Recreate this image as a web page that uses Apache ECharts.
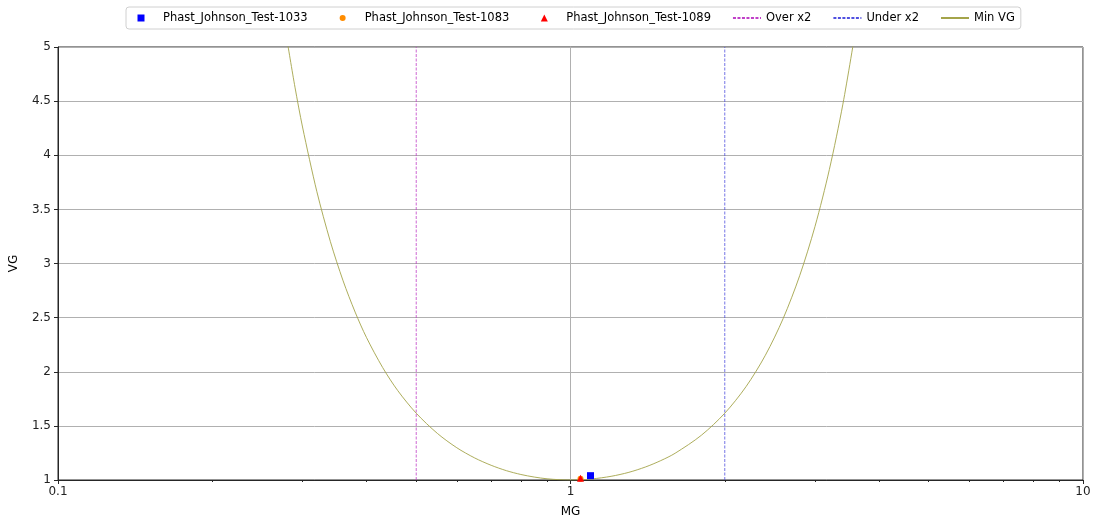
<!DOCTYPE html>
<html>
<head>
<meta charset="utf-8">
<script src="https://cdn.jsdelivr.net/npm/echarts@6/dist/echarts.min.js"></script>
<style>
  html, body { margin: 0; padding: 0; background: #fff; }
  #chart { width: 1095px; height: 523px; }
</style>
</head>
<body>
<div id="chart"></div>
<script>
// Test points: [MG, VG]
const test1033 = [[1.094, 1.040]];
const test1083 = [[1.046, 1.012]];
const test1089 = [[1.046, 1.016]];

// Factor-of-two bounds on MG
const overX = 0.5;
const underX = 2;

// Minimum attainable VG for a given MG
const minVgMG = [0.28, 0.29, 0.30, 0.32, 0.34, 0.36, 0.38, 0.40, 0.43, 0.46, 0.50, 0.55, 0.60, 0.65, 0.70, 0.75, 0.80, 0.85, 0.90, 0.95, 1.00, 1.05, 1.10, 1.20, 1.30, 1.40, 1.50, 1.60, 1.80, 2.00, 2.20, 2.40, 2.60, 2.80, 3.00, 3.20, 3.40, 3.60];
const minVgVG = [5.056, 4.629, 4.261, 3.663, 3.202, 2.840, 2.551, 2.315, 2.039, 1.827, 1.617, 1.430, 1.298, 1.204, 1.136, 1.086, 1.051, 1.027, 1.011, 1.003, 1.000, 1.002, 1.009, 1.034, 1.071, 1.120, 1.179, 1.247, 1.413, 1.617, 1.862, 2.152, 2.492, 2.887, 3.343, 3.869, 4.472, 5.159];

const xLabels = { 0.1: '0.1', 1: '1', 10: '10' };
const yMin = 1, yMax = 5, yStep = 0.5;

const FONT = 'DejaVu Sans';
const SQUARE = 'path://M0,0L1,0L1,1L0,1Z';
const TRIANGLE = 'path://M0.5,0L1,1L0,1Z';
// Legend glyphs centred in a 28x7 handle (the leading moves widen the bounds)
const SQUARE_KEY = 'path://M0,0M28,7M10.5,0L17.5,0L17.5,7L10.5,7Z';
const CIRCLE_KEY = 'path://M0,0M28,7M11,3.5A3,3,0,1,1,17,3.5A3,3,0,1,1,11,3.5Z';
const TRIANGLE_KEY = 'path://M0,0M28,7M14,0L17.5,7L10.5,7Z';
const chart = echarts.init(document.getElementById('chart'));

const hideSymbol = { opacity: 0 };
const markerText = { padding: [0, 0, 0, 3] };
const lineText = { padding: [0, 0, 0, 0] };

chart.setOption({
  animation: false,
  backgroundColor: '#ffffff',
  textStyle: { fontFamily: FONT },
  grid: {
    left: 58, right: 12, top: 47, bottom: 43,
    show: true, borderColor: '#262626', borderWidth: 1, backgroundColor: 'transparent'
  },
  legend: {
    top: 7,
    left: 126,
    itemWidth: 28,
    itemHeight: 7,
    itemGap: 21,
    padding: [5, 6, 5, 1],
    borderColor: '#d0d0d0',
    borderWidth: 1,
    borderRadius: 3,
    backgroundColor: '#ffffff',
    symbolKeepAspect: false,
    textStyle: { fontFamily: FONT, fontSize: 11.5, color: '#000' },
    data: [
      { name: 'Phast_Johnson_Test-1033', icon: SQUARE_KEY, textStyle: markerText },
      { name: 'Phast_Johnson_Test-1083', icon: CIRCLE_KEY, textStyle: markerText },
      { name: 'Phast_Johnson_Test-1089', icon: TRIANGLE_KEY, textStyle: markerText },
      { name: 'Over x2', itemStyle: hideSymbol, textStyle: lineText },
      { name: 'Under x2', itemStyle: hideSymbol, textStyle: lineText },
      { name: 'Min VG', itemStyle: hideSymbol, textStyle: lineText }
    ]
  },
  xAxis: {
    type: 'log',
    logBase: 10,
    min: 0.1,
    max: 10,
    name: 'MG',
    nameLocation: 'middle',
    nameGap: 26,
    nameTextStyle: { fontFamily: FONT, fontSize: 12, color: '#000' },
    axisLine: { show: true, lineStyle: { color: '#262626', width: 1 } },
    axisTick: { show: true, inside: false, length: 4, lineStyle: { color: '#262626' } },
    minorTick: { show: true, splitNumber: 9, length: 2, lineStyle: { color: '#262626' } },
    axisLabel: {
      fontFamily: FONT, fontSize: 12, color: '#222', margin: 6,
      formatter: v => xLabels[v] !== undefined ? xLabels[v] : ''
    },
    splitLine: { show: true, lineStyle: { color: '#b0b0b0', width: 1 } }
  },
  yAxis: {
    type: 'value',
    min: yMin,
    max: yMax,
    interval: yStep,
    name: 'VG',
    nameLocation: 'middle',
    nameGap: 38,
    nameTextStyle: { fontFamily: FONT, fontSize: 12, color: '#000' },
    axisLine: { show: true, lineStyle: { color: '#262626', width: 1 } },
    axisTick: { show: true, inside: false, length: 4, lineStyle: { color: '#262626' } },
    axisLabel: { fontFamily: FONT, fontSize: 12, color: '#222', margin: 7 },
    splitLine: { show: true, lineStyle: { color: '#b0b0b0', width: 1 } }
  },
  series: [
    {
      name: 'Phast_Johnson_Test-1033', type: 'scatter', symbol: SQUARE, symbolSize: 7,
      itemStyle: { color: '#0000ff', opacity: 1 }, data: test1033, z: 5
    },
    {
      name: 'Phast_Johnson_Test-1083', type: 'scatter', symbol: 'circle', symbolSize: 6,
      itemStyle: { color: '#ff8c00', opacity: 1 }, data: test1083, z: 5
    },
    {
      name: 'Phast_Johnson_Test-1089', type: 'scatter', symbol: TRIANGLE, symbolSize: 7,
      itemStyle: { color: '#ff0000', opacity: 1 }, data: test1089, z: 6
    },
    {
      name: 'Over x2', type: 'line', symbol: 'none',
      lineStyle: { color: '#c040c8', width: 0.8, type: [3, 1.5] },
      itemStyle: { color: '#c040c8' },
      data: [[overX, yMin], [overX, yMax]], z: 3
    },
    {
      name: 'Under x2', type: 'line', symbol: 'none',
      lineStyle: { color: '#5050e0', width: 0.8, type: [3, 1.5] },
      itemStyle: { color: '#5050e0' },
      data: [[underX, yMin], [underX, yMax]], z: 3
    },
    {
      name: 'Min VG', type: 'line', symbol: 'none', smooth: 0.3,
      lineStyle: { color: '#a4a44a', width: 0.9 },
      itemStyle: { color: '#a4a44a' },
      data: minVgMG.map((m, i) => [m, minVgVG[i]]), z: 4
    }
  ]
});
</script>
</body>
</html>
